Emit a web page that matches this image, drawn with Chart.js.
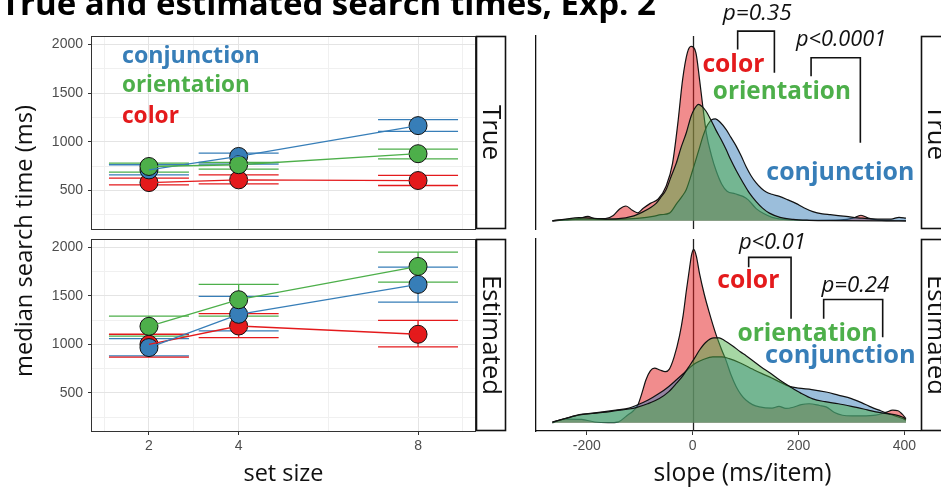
<!DOCTYPE html>
<html>
<head>
<meta charset="utf-8">
<script src="https://cdn.jsdelivr.net/npm/chart.js@4.4.1/dist/chart.umd.min.js"></script>
<style>
  html, body { margin: 0; padding: 0; background: #fff; }
  #wrap { position: relative; width: 941px; height: 489px; overflow: hidden; }
  #wrap canvas { position: absolute; left: 0; top: 0; }
</style>
</head>
<body>
<div id="wrap">
  <canvas id="lt" width="941" height="489"></canvas>
  <canvas id="lb" width="941" height="489"></canvas>
  <canvas id="rt" width="941" height="489"></canvas>
  <canvas id="rb" width="941" height="489"></canvas>
</div>
<script>
// set sizes and median search times (ms), True panel
const setSizes = [2, 4, 8];
const trueColor = [582, 610, 603];
const trueColorLo = [559, 569, 552];
const trueColorHi = [628, 662, 655];
const trueConj = [712, 850, 1166];
const trueConjLo = [662, 772, 1107];
const trueConjHi = [765, 885, 1228];
const trueOrient = [747, 765, 878];
const trueOrientLo = [690, 720, 826];
const trueOrientHi = [782, 788, 926];

// Estimated panel
const estColor = [1000, 1188, 1103];
const estColorLo = [867, 1069, 973];
const estColorHi = [1103, 1316, 1247];
const estConj = [966, 1309, 1617];
const estConjLo = [880, 1137, 1435];
const estConjHi = [1059, 1494, 1795];
const estOrient = [1185, 1459, 1802];
const estOrientLo = [1083, 1291, 1640];
const estOrientHi = [1291, 1617, 1949];

// grid / tick values
const xGrid = [1, 2, 3, 4, 6, 8, 9];
const yGrid = [250, 500, 750, 1000, 1250, 1500, 1750, 2000];
const slopeTicks = [-200, 0, 200, 400];

// slope densities [slope, relative density]
const trueColorDens = [[-265,0],[-240,0.005],[-215,0.012],[-198,0.025],[-185,0.012],[-165,0.012],[-150,0.03],[-138,0.068],[-126,0.085],[-114,0.06],[-104,0.046],[-94,0.07],[-80,0.1],[-65,0.125],[-50,0.2],[-38,0.33],[-28,0.56],[-19,0.81],[-10,0.965],[-3,1.0],[6,0.965],[13,0.81],[19,0.66],[26,0.5],[35,0.38],[44,0.29],[55,0.21],[65,0.17],[80,0.155],[95,0.14],[105,0.12],[120,0.07],[135,0.04],[150,0.02],[180,0.006],[230,0.003],[280,0.005],[303,0.015],[318,0.032],[332,0.015],[350,0.004],[403,0]];
const trueOrientDens = [[-265,0],[-240,0.01],[-215,0.018],[-190,0.015],[-165,0.01],[-140,0.012],[-115,0.025],[-95,0.05],[-80,0.075],[-69,0.1],[-60,0.135],[-50,0.18],[-40,0.26],[-31,0.33],[-22,0.42],[-12,0.505],[-3,0.6],[3,0.64],[11,0.668],[18,0.655],[25,0.63],[35,0.575],[44,0.52],[54,0.465],[63,0.41],[72,0.35],[82,0.29],[95,0.22],[107,0.16],[120,0.11],[132,0.073],[145,0.044],[165,0.02],[190,0.008],[220,0.003],[260,0.001],[403,0]];
const trueConjDens = [[-265,0],[-240,0.006],[-210,0.01],[-170,0.008],[-130,0.01],[-100,0.015],[-75,0.025],[-60,0.035],[-44,0.044],[-30,0.1],[-20,0.14],[-12,0.18],[0,0.29],[12,0.41],[20,0.49],[28,0.55],[36,0.58],[43,0.585],[52,0.565],[63,0.524],[72,0.48],[82,0.43],[92,0.37],[101,0.31],[110,0.26],[120,0.217],[130,0.185],[139,0.165],[150,0.152],[164,0.14],[180,0.12],[195,0.1],[210,0.075],[227,0.053],[245,0.04],[260,0.035],[290,0.025],[320,0.015],[350,0.01],[375,0.01],[390,0.02],[403,0.015]];

const estColorDens = [[-265,0],[-240,0.022],[-210,0.02],[-185,0.005],[-160,0.001],[-140,0.006],[-125,0.04],[-112,0.07],[-104,0.1],[-96,0.17],[-88,0.25],[-80,0.3],[-72,0.315],[-62,0.305],[-52,0.295],[-44,0.31],[-35,0.38],[-25,0.5],[-18,0.62],[-12,0.76],[-6,0.89],[-2,0.97],[2,1.0],[7,0.96],[13,0.86],[22,0.74],[31,0.64],[44,0.51],[55,0.42],[63,0.36],[72,0.28],[82,0.21],[92,0.16],[101,0.13],[113,0.105],[126,0.092],[150,0.085],[163,0.095],[176,0.083],[190,0.09],[205,0.105],[220,0.11],[240,0.1],[252,0.092],[268,0.06],[283,0.044],[300,0.04],[320,0.04],[346,0.044],[365,0.06],[378,0.073],[388,0.07],[396,0.05],[403,0.025]];
const estOrientDens = [[-265,0.004],[-240,0.025],[-214,0.046],[-190,0.054],[-170,0.06],[-145,0.07],[-120,0.08],[-107,0.088],[-85,0.11],[-63,0.14],[-45,0.18],[-30,0.23],[-19,0.27],[-8,0.32],[3,0.37],[13,0.42],[25,0.465],[40,0.49],[50,0.49],[60,0.475],[75,0.445],[90,0.41],[101,0.387],[115,0.355],[130,0.32],[145,0.29],[165,0.245],[183,0.21],[205,0.17],[227,0.138],[250,0.122],[275,0.11],[300,0.095],[330,0.075],[352,0.06],[370,0.052],[385,0.045],[395,0.035],[403,0.022]];
const estConjDens = [[-265,0.004],[-240,0.026],[-214,0.047],[-190,0.056],[-170,0.063],[-145,0.073],[-120,0.085],[-107,0.1],[-85,0.13],[-63,0.17],[-45,0.21],[-30,0.25],[-19,0.28],[-5,0.32],[6,0.345],[20,0.365],[38,0.38],[55,0.38],[69,0.37],[90,0.345],[113,0.31],[130,0.285],[145,0.265],[165,0.235],[183,0.21],[200,0.2],[225,0.192],[252,0.178],[275,0.16],[300,0.14],[320,0.115],[334,0.095],[355,0.07],[375,0.048],[390,0.032],[397,0.025],[403,0.015]];

const RED = '#E41A1C', BLUE = '#377EB8', GREEN = '#4DAF4A';
const SANS = '"Open Sans", "Noto Sans", sans-serif';
const TICKFONT = {family: '"Liberation Sans", Arial, sans-serif', size: 14};

// font size that makes text span the given width
function fitFont(ctx, text, width, weight, style) {
  ctx.font = `${style} ${weight} 100px ${SANS}`;
  const w = ctx.measureText(text).width;
  return `${style} ${weight} ${(100 * width / w).toFixed(2)}px ${SANS}`;
}

function errorBars(series) {
  return {
    id: 'errorBars',
    beforeDatasetsDraw(chart) {
      const {ctx, scales: {x, y}} = chart;
      ctx.save();
      ctx.lineWidth = 1.3;
      series.forEach(s => {
        ctx.strokeStyle = s.color;
        setSizes.forEach((n, i) => {
          const px = x.getPixelForValue(n);
          const lo = y.getPixelForValue(s.lo[i]);
          const hi = y.getPixelForValue(s.hi[i]);
          ctx.beginPath();
          ctx.moveTo(px - 40, lo); ctx.lineTo(px + 40, lo);
          ctx.moveTo(px - 40, hi); ctx.lineTo(px + 40, hi);
          ctx.moveTo(px, lo); ctx.lineTo(px, hi);
          ctx.stroke();
        });
      });
      ctx.restore();
    }
  };
}

function notes(texts, brackets) {
  return {
    id: 'notes',
    afterDatasetsDraw(chart) {
      const {ctx, scales: {x, y}} = chart;
      ctx.save();
      ctx.strokeStyle = '#111';
      ctx.lineWidth = 1.6;
      brackets.forEach(b => {
        ctx.beginPath();
        ctx.moveTo(x.getPixelForValue(b.x1), y.getPixelForValue(b.l));
        ctx.lineTo(x.getPixelForValue(b.x1), y.getPixelForValue(b.top));
        ctx.lineTo(x.getPixelForValue(b.x2), y.getPixelForValue(b.top));
        ctx.lineTo(x.getPixelForValue(b.x2), y.getPixelForValue(b.r));
        ctx.stroke();
      });
      ctx.textBaseline = 'middle';
      texts.forEach(t => {
        ctx.font = fitFont(ctx, t.text, t.w, t.weight || 'bold', t.italic ? 'italic' : 'normal');
        ctx.fillStyle = t.color || '#111';
        ctx.textAlign = t.align || 'center';
        ctx.fillText(t.text, x.getPixelForValue(t.x), y.getPixelForValue(t.y));
      });
      ctx.restore();
    }
  };
}

const panelBox = {
  id: 'panelBox',
  afterDraw(chart) {
    const a = chart.chartArea, ctx = chart.ctx;
    ctx.save();
    ctx.strokeStyle = '#333';
    ctx.lineWidth = 1;
    ctx.strokeRect(a.left - 0.5, a.top + 0.5, a.right - a.left + 1, a.bottom - a.top);
    ctx.restore();
  }
};

const zeroLine = {
  id: 'zeroLine',
  beforeDatasetsDraw(chart) {
    const {ctx, chartArea: a, scales: {x}} = chart;
    const px = Math.round(x.getPixelForValue(0)) + 0.5;
    ctx.save();
    ctx.strokeStyle = '#222';
    ctx.lineWidth = 1.3;
    ctx.beginPath();
    ctx.moveTo(px, a.top);
    ctx.lineTo(px, a.bottom);
    ctx.stroke();
    ctx.restore();
  }
};

const isMajorX = c => c.tick && setSizes.includes(c.tick.value);
const isMajorY = c => c.tick && c.tick.value % 500 === 0;

// chart area is placed by padding plus fixed axis box sizes
function leftChart(id, series, top, bottom, showX, labels) {
  const datasets = [];
  series.forEach(s => {
    datasets.push({
      data: setSizes.map((n, i) => ({x: n, y: s.y[i]})),
      showLine: false, pointRadius: 9, pointHoverRadius: 9,
      pointBackgroundColor: s.color, pointBorderColor: '#111', pointBorderWidth: 1,
      order: s.pointOrder
    });
    datasets.push({
      data: setSizes.map((n, i) => ({x: n, y: s.y[i]})),
      pointRadius: 0, borderColor: s.color, borderWidth: 1.3, order: s.lineOrder
    });
  });
  const xBox = showX ? 489 - bottom : 0;
  return new Chart(document.getElementById(id), {
    type: 'line',
    data: {datasets},
    options: {
      responsive: false, animation: false, devicePixelRatio: 1,
      layout: {padding: {left: 0, top: top, right: 941 - 475, bottom: 489 - bottom - xBox}, autoPadding: false},
      plugins: {legend: {display: false}, tooltip: {enabled: false}},
      scales: {
        x: {
          type: 'linear', min: 0.73, max: 9.27,
          afterBuildTicks: a => { a.ticks = xGrid.map(v => ({value: v})); },
          afterFit: a => { a.height = xBox; },
          ticks: {display: showX, autoSkip: false, maxRotation: 0, padding: 3, color: '#4d4d4d', font: TICKFONT,
                  callback: v => setSizes.includes(v) ? String(v) : ''},
          grid: {color: c => isMajorX(c) ? '#e4e4e4' : '#f0f0f0', lineWidth: 1, drawTicks: showX, tickLength: 4,
                 tickColor: c => isMajorX(c) ? '#333' : 'rgba(0,0,0,0)'},
          border: {display: false}
        },
        y: {
          type: 'linear', min: 106, max: 2085,
          afterBuildTicks: a => { a.ticks = yGrid.map(v => ({value: v})); },
          afterFit: a => { a.width = 92; },
          ticks: {autoSkip: false, padding: 5, color: '#4d4d4d', font: TICKFONT,
                  callback: v => v % 500 === 0 ? String(v) : ''},
          grid: {color: c => isMajorY(c) ? '#e4e4e4' : '#f0f0f0', lineWidth: 1, tickLength: 4,
                 tickColor: c => isMajorY(c) ? '#333' : 'rgba(0,0,0,0)'},
          border: {display: false}
        }
      }
    },
    plugins: [errorBars(series), notes(labels, []), panelBox]
  });
}

function rightChart(id, dens, top, bottom, showX, texts, brackets, extra) {
  const datasets = dens.map(d => ({
    data: d.pts.map(([x, y]) => ({x, y})),
    borderColor: '#111', borderWidth: 1.2, backgroundColor: d.fill,
    fill: 'origin', pointRadius: 0, cubicInterpolationMode: 'monotone', order: d.order
  }));
  const xBox = showX ? 489 - bottom : 0;
  return new Chart(document.getElementById(id), {
    type: 'line',
    data: {datasets},
    options: {
      responsive: false, animation: false, devicePixelRatio: 1,
      layout: {padding: {left: 536, top: top, right: 941 - 920, bottom: 489 - bottom - xBox}, autoPadding: false},
      plugins: {legend: {display: false}, tooltip: {enabled: false}},
      scales: {
        x: {
          type: 'linear', min: -296, max: 429.5,
          afterBuildTicks: a => { a.ticks = slopeTicks.map(v => ({value: v})); },
          afterFit: a => { a.height = xBox; },
          ticks: {display: showX, autoSkip: false, maxRotation: 0, padding: 3, color: '#4d4d4d', font: TICKFONT},
          grid: {display: showX, drawOnChartArea: false, tickLength: 4, tickColor: '#333'},
          border: {display: showX, color: '#111', width: 1.3}
        },
        y: {
          type: 'linear', min: -0.047, max: 1.06,
          afterFit: a => { a.width = 0; },
          ticks: {display: false},
          grid: {drawOnChartArea: false, drawTicks: false},
          border: {display: true, color: '#111', width: 1.3}
        }
      }
    },
    plugins: [zeroLine, notes(texts, brackets)].concat(extra || [])
  });
}

// titles, axis labels and facet strips
const frame = {
  id: 'frame',
  afterDraw(chart) {
    const ctx = chart.ctx;
    ctx.save();
    ctx.fillStyle = '#000';
    ctx.textBaseline = 'alphabetic';
    ctx.textAlign = 'left';
    ctx.font = fitFont(ctx, 'True and estimated search times, Exp. 2', 655, 'bold', 'normal');
    ctx.fillText('True and estimated search times, Exp. 2', 1, 15);

    ctx.textBaseline = 'middle';
    ctx.textAlign = 'center';
    ctx.fillStyle = '#111';
    ctx.font = fitFont(ctx, 'set size', 80, 'normal', 'normal');
    ctx.fillText('set size', 283.5, 474);
    ctx.font = fitFont(ctx, 'slope (ms/item)', 178, 'normal', 'normal');
    ctx.fillText('slope (ms/item)', 742.5, 474);
    ctx.save();
    ctx.translate(25, 241);
    ctx.rotate(-Math.PI / 2);
    ctx.font = fitFont(ctx, 'median search time (ms)', 272, 'normal', 'normal');
    ctx.fillText('median search time (ms)', 0, 0);
    ctx.restore();

    const stripFont = fitFont(ctx, 'Estimated', 120, 'normal', 'normal');
    [[476, 36, 229, 'True'], [476, 239, 431, 'Estimated'],
     [921, 36, 229, 'True'], [921, 239, 431, 'Estimated']].forEach(([x, y0, y1, t]) => {
      ctx.fillStyle = '#fff';
      ctx.fillRect(x, y0, 30, y1 - y0);
      ctx.strokeStyle = '#111';
      ctx.lineWidth = 1.6;
      ctx.strokeRect(x + 0.5, y0 + 0.5, 29, y1 - y0 - 1);
      ctx.save();
      ctx.translate(x + 14.5, (y0 + y1) / 2);
      ctx.rotate(Math.PI / 2);
      ctx.fillStyle = '#111';
      ctx.font = stripFont;
      ctx.fillText(t, 0, 0);
      ctx.restore();
    });
    ctx.restore();
  }
};

const leftLabels = [
  {text: 'conjunction', x: 1.398, y: 1876, w: 138, color: BLUE, align: 'left'},
  {text: 'orientation', x: 1.398, y: 1578, w: 128, color: GREEN, align: 'left'},
  {text: 'color', x: 1.398, y: 1259, w: 57, color: RED, align: 'left'}
];

leftChart('lt', [
  {color: GREEN, y: trueOrient, lo: trueOrientLo, hi: trueOrientHi, pointOrder: 4, lineOrder: 1},
  {color: BLUE, y: trueConj, lo: trueConjLo, hi: trueConjHi, pointOrder: 5, lineOrder: 2},
  {color: RED, y: trueColor, lo: trueColorLo, hi: trueColorHi, pointOrder: 6, lineOrder: 3}
], 36, 229, false, leftLabels);

leftChart('lb', [
  {color: GREEN, y: estOrient, lo: estOrientLo, hi: estOrientHi, pointOrder: 4, lineOrder: 1},
  {color: BLUE, y: estConj, lo: estConjLo, hi: estConjHi, pointOrder: 5, lineOrder: 2},
  {color: RED, y: estColor, lo: estColorLo, hi: estColorHi, pointOrder: 6, lineOrder: 3}
], 239, 431, true, []);

rightChart('rt', [
  {pts: trueColorDens, fill: 'rgba(228,26,28,0.5)', order: 3},
  {pts: trueConjDens, fill: 'rgba(55,126,184,0.5)', order: 2},
  {pts: trueOrientDens, fill: 'rgba(77,175,74,0.5)', order: 1}
], 36, 229, false, [
  {text: 'p=0.35', x: 122, y: 1.19, w: 69, italic: true, weight: 'normal'},
  {text: 'p<0.0001', x: 280.4, y: 1.037, w: 90, italic: true, weight: 'normal'},
  {text: 'color', x: 76.9, y: 0.891, w: 62, color: RED},
  {text: 'orientation', x: 168.5, y: 0.736, w: 138, color: GREEN},
  {text: 'conjunction', x: 279, y: 0.276, w: 148, color: BLUE}
], [
  {x1: 85, x2: 154.4, top: 1.088, l: 0.983, r: 0.849},
  {x1: 223.7, x2: 316.8, top: 0.935, l: 0.829, r: 0.447}
]);

rightChart('rb', [
  {pts: estColorDens, fill: 'rgba(228,26,28,0.5)', order: 3},
  {pts: estConjDens, fill: 'rgba(55,126,184,0.5)', order: 2},
  {pts: estOrientDens, fill: 'rgba(77,175,74,0.5)', order: 1}
], 239, 431, true, [
  {text: 'p<0.01', x: 150.6, y: 1.04, w: 67, italic: true, weight: 'normal'},
  {text: 'color', x: 105.2, y: 0.82, w: 62, color: RED},
  {text: 'p=0.24', x: 307.4, y: 0.791, w: 68, italic: true, weight: 'normal'},
  {text: 'orientation', x: 216.7, y: 0.514, w: 140, color: GREEN},
  {text: 'conjunction', x: 279, y: 0.389, w: 151, color: BLUE}
], [
  {x1: 105.8, x2: 185.9, top: 0.954, l: 0.897, r: 0.6},
  {x1: 247.5, x2: 359, top: 0.711, l: 0.6, r: 0.494}
], [frame]);
</script>
</body>
</html>
